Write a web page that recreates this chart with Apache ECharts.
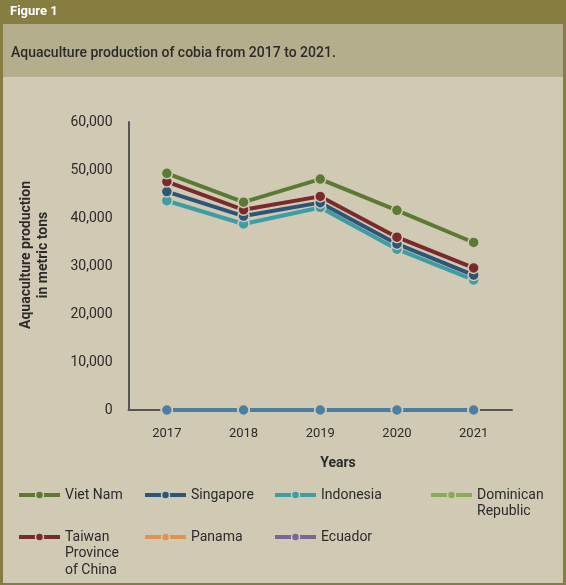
<!DOCTYPE html>
<html>
<head>
<meta charset="utf-8">
<script src="https://cdn.jsdelivr.net/npm/echarts@6/dist/echarts.min.js"></script>
<style>
html,body{margin:0;padding:0;background:#877d42;}
#chart{width:566px;height:585px;}
</style>
</head>
<body>
<div id="chart"></div>
<script>
const years = ['2017','2018','2019','2020','2021'];
const yTicks = [0, 10000, 20000, 30000, 40000, 50000, 60000];
const vietNam   = [49300, 43300, 48100, 41600, 34900];
const taiwan    = [47600, 41700, 44500, 36000, 29600];
const singapore = [45500, 40400, 43200, 34600, 28100];
const indonesia = [43600, 38750, 42200, 33500, 27100];
const dominican = [0, 0, 0, 0, 0];
const panama    = [0, 0, 0, 0, 0];
const ecuador   = [0, 0, 0, 0, 0];

const BG = '#d0cab4';
const FONT = 'Roboto, "Noto Sans", sans-serif';
const zeroLine = '#4a7ea2';

const seriesDefs = [
  {name:'Dominican Republic', data:dominican, color:'#8aac58', draw:zeroLine, label:['Dominican','Republic'], left:429, cy:495},
  {name:'Panama', data:panama, color:'#e39150', draw:zeroLine, label:['Panama'], left:143, cy:537},
  {name:'Ecuador', data:ecuador, color:'#7c6699', draw:zeroLine, label:['Ecuador'], left:273, cy:537},
  {name:'Indonesia', data:indonesia, color:'#3e9ca4', draw:'#3e9ca4', label:['Indonesia'], left:273, cy:495},
  {name:'Singapore', data:singapore, color:'#2d5577', draw:'#2d5577', label:['Singapore'], left:143, cy:495},
  {name:'Taiwan Province of China', data:taiwan, color:'#7b2a2c', draw:'#7b2a2c', label:['Taiwan','Province','of China'], left:17, cy:537},
  {name:'Viet Nam', data:vietNam, color:'#5b7b34', draw:'#5b7b34', label:['Viet Nam'], left:17, cy:495}
];

const LH = 16.5;
const legends = seriesDefs.map(d => {
  const k = d.label.length;
  // prepend k-1 empty lines so that the first text line sits at the icon centre
  const txt = new Array(k - 1).fill('').concat(d.label).join('\n');
  const total = (2 * k - 1) * LH;
  return {
    left: d.left,
    top: d.cy - total / 2,
    padding: 0,
    itemWidth: 41,
    itemHeight: 10,
    selectedMode: false,
    formatter: () => txt,
    textStyle: {fontSize: 14, color: '#2b2b2b', fontFamily: FONT, lineHeight: LH},
    lineStyle: {width: 4},
    itemStyle: {borderColor: BG, borderWidth: 1.5},
    data: [{name: d.name, itemStyle: {color: d.color, borderColor: BG, borderWidth: 1.5}, lineStyle: {color: d.color, width: 4}}]
  };
});

const series = seriesDefs.map(d => ({
  name: d.name,
  type: 'line',
  data: d.data,
  symbol: 'circle',
  symbolSize: 11,
  lineStyle: {color: d.draw, width: 4},
  itemStyle: {color: d.draw, borderColor: BG, borderWidth: 1.5},
  emphasis: {disabled: true},
  animation: false
}));

const chart = echarts.init(document.getElementById('chart'));
chart.setOption({
  backgroundColor: '#877d42',
  animation: false,
  textStyle: {fontFamily: FONT},
  graphic: [
    {type:'rect', z:-10, shape:{x:3, y:24, width:560, height:53}, style:{fill:'#b5ae8c'}},
    {type:'rect', z:-10, shape:{x:3, y:77, width:560, height:506}, style:{fill:BG}},
    {type:'text', x:10, y:12, style:{text:'Figure 1', fill:'#ffffff', font:'bold 13px ' + FONT, textAlign:'left', textVerticalAlign:'middle', align:'left', verticalAlign:'middle'}},
    {type:'text', x:11, y:53, style:{text:'Aquaculture production of cobia from 2017 to 2021.', fill:'#2b2b2b', font:'500 14px ' + FONT, textAlign:'left', textVerticalAlign:'middle', align:'left', verticalAlign:'middle'}},
    {type:'text', x:35, y:255, rotation:Math.PI/2, style:{text:'Aquaculture production\nin metric tons', fill:'#2b2b2b', font:'bold 14px ' + FONT, lineHeight:16.6, textAlign:'center', textVerticalAlign:'middle', align:'center', verticalAlign:'middle'}},
    {type:'text', x:338, y:463, style:{text:'Years', fill:'#2b2b2b', font:'bold 14px ' + FONT, textAlign:'center', textVerticalAlign:'middle', align:'center', verticalAlign:'middle'}}
  ],
  legend: legends,
  grid: {left: 128.5, right: 54, top: 122, bottom: 175, containLabel: false},
  xAxis: {
    type: 'category',
    data: years,
    boundaryGap: true,
    axisLine: {lineStyle: {color: '#555', width: 2}},
    axisTick: {show: false},
    axisLabel: {fontSize: 13, color: '#2b2b2b', margin: 17}
  },
  yAxis: {
    type: 'value',
    min: yTicks[0],
    max: yTicks[yTicks.length - 1],
    interval: yTicks[1] - yTicks[0],
    axisLine: {show: true, lineStyle: {color: '#555', width: 2}},
    axisTick: {show: false},
    splitLine: {show: false},
    axisLabel: {fontSize: 14, color: '#2b2b2b', margin: 16, formatter: v => v.toLocaleString('en-US')}
  },
  series: series
});
</script>
</body>
</html>
